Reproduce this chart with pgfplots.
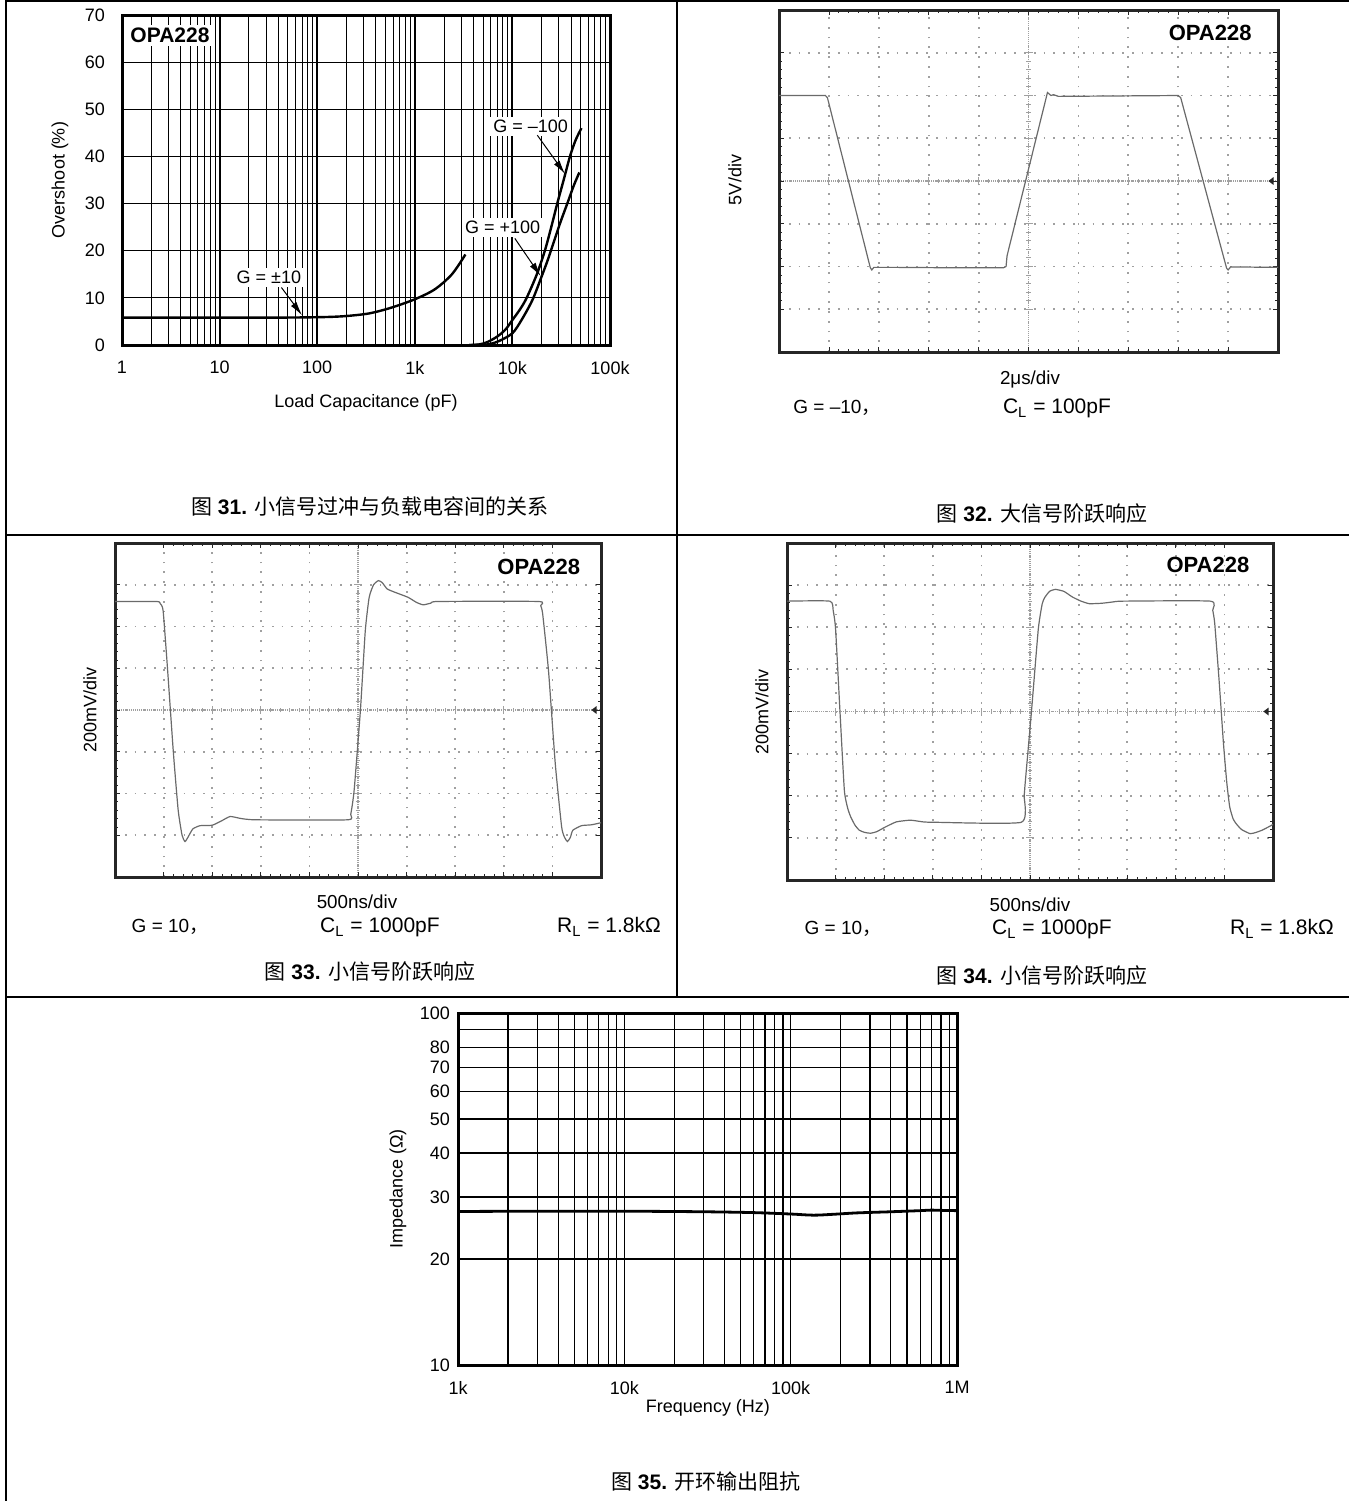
\documentclass[border=0pt]{standalone}
\usepackage{pgfplots}
\pgfplotsset{compat=1.18}
\usepackage{fontspec}
\setmainfont{Liberation Sans}
\newfontfamily\cjk{Noto Sans CJK SC}
\usetikzlibrary{arrows.meta}
\definecolor{trace}{HTML}{6A6A6A}
\definecolor{sgrid}{HTML}{A0A0A0}
\definecolor{sframe}{HTML}{262626}
\newcommand\figcap[2]{{\cjk 图} \textbf{#1.} {\cjk #2}}
\newcommand\fs{\fontsize{9bp}{10bp}\selectfont}
\newcommand\fss{\fontsize{9.4bp}{10bp}\selectfont}
\newcommand\fg{\fontsize{9.5bp}{10bp}\selectfont}
\newcommand\fc{\fontsize{10.5bp}{11bp}\selectfont}
\newcommand\fopa{\bfseries\fontsize{10.5bp}{11bp}\selectfont}
\newcommand\fopb{\bfseries\fontsize{11bp}{12bp}\selectfont}
\pgfplotsset{
  scopebase/.style={scale only axis, anchor=south west, xmin=0,xmax=10,ymin=-4,ymax=4,
    xticklabels={}, yticklabels={}},
  scopeaxis/.style={scopebase,
    xtick={1,...,9}, ytick={-3,...,3},
    minor x tick num=4, minor y tick num=4,
    tick align=inside, tick pos=both,
    major tick length=2.5bp, minor tick length=1.5bp,
    tick style={sframe, line width=0.4bp},
    grid=major,
    major grid style={sgrid, line width=0.9bp, dash pattern=on 0.9bp off 4bp},
    axis line style={sframe, line width=1.5bp},
  },
  scopemid/.style={scopebase, xmin=-5, xmax=5,
    axis lines=middle,
    axis line style={sgrid, line width=0.6bp, -, dash pattern=on 0.5bp off 0.5bp},
    xtick={-4,...,4}, ytick={-3,...,3},
    minor x tick num=4, minor y tick num=4,
    tick align=center, major tick length=4bp, minor tick length=2.4bp,
    tick style={sgrid, line width=0.5bp},
  },
  loggrid/.style={scale only axis, anchor=south west,
    major tick length=0pt, minor tick length=0pt,
    tick label style={font=\fs},
    xticklabel style={yshift=-4.5bp},
    /pgf/number format/assume math mode=true,
    axis line style={black, line width=1.5bp},
  },
}
\begin{document}
\begin{tikzpicture}
\useasboundingbox (0,0) rectangle (674.5bp,-750.5bp);

% ---------------- Figure 31 ----------------
\begin{axis}[loggrid, at={(61bp,-172.5bp)}, width=244bp, height=165bp,
  xmode=log, xmin=1, xmax=1e5, ymin=0, ymax=70,
  xtick={1,10,100,1000,1e4,1e5}, xticklabels={1,10,100,1k,10k,100k},
  minor xtick={2,3,4,5,6,7,8,9,20,30,40,50,60,70,80,90,200,300,400,500,600,700,800,900,2e3,3e3,4e3,5e3,6e3,7e3,8e3,9e3,2e4,3e4,4e4,5e4,6e4,7e4,8e4,9e4},
  ytick={0,10,20,30,40,50,60,70},
  yticklabel style={xshift=-5bp},
  xmajorgrids, xminorgrids, ymajorgrids,
  major x grid style={black, line width=1bp},
  minor x grid style={black, line width=0.5bp},
  major y grid style={black, line width=0.6bp},
]
\addplot[black, line width=1.2bp, smooth] coordinates {
 (1,5.8) (3,5.8) (10,5.8) (30,5.8) (70,5.85) (130,5.95) (200,6.15) (340,6.7) (570,7.9) (1000,9.7) (1600,11.8) (2400,15.0) (3300,19.2)};
\addplot[black, line width=1.2bp, smooth] coordinates {
 (3600,0) (4500,0.1) (5500,0.6) (7000,1.8) (8500,3.3) (10000,5.3) (12000,7.6) (14000,10) (17800,15) (21500,20) (25000,25) (28800,30) (33500,35) (38900,40) (44500,43.5) (51000,46)};
\addplot[black, line width=1.2bp, smooth] coordinates {
 (3600,0) (5000,0.05) (6000,0.25) (7400,0.9) (10000,2.5) (12400,5.3) (16000,9.5) (19900,14.5) (23000,18) (26500,21.8) (31000,26) (37400,30.6) (42500,33.8) (48500,36.6)};
\node[fill=white, inner sep=1.5bp, font=\fopa] at (axis cs:3.1,65.6) {OPA228};
\node[fill=white, inner sep=1.5bp, font=\fs] at (axis cs:32,14.3) {G = ±10};
\node[fill=white, inner sep=1.5bp, font=\fs] at (axis cs:15400,46.3) {G = –100};
\node[fill=white, inner sep=1.5bp, font=\fs] at (axis cs:7950,25.0) {G = +100};
\draw[-{Latex[length=7bp,width=3.4bp]}, line width=0.5bp] (axis cs:43,12.2) -- (axis cs:70,6.3);
\draw[-{Latex[length=7bp,width=3.4bp]}, line width=0.5bp] (axis cs:18000,44.5) -- (axis cs:34600,36.3);
\draw[-{Latex[length=7bp,width=3.4bp]}, line width=0.5bp] (axis cs:10600,22.6) -- (axis cs:19500,14.6);
\end{axis}

% ---------------- Figure 32 ----------------
\begin{axis}[scopemid, at={(389.5bp,-176bp)}, width=249.5bp, height=171bp]
\end{axis}
\begin{axis}[scopeaxis, at={(389.5bp,-176bp)}, width=249.5bp, height=171bp]
\addplot[trace, line width=0.6bp] coordinates {
 (0,2.0) (0.93,2.0) (0.97,1.95) (1.83,-2.03) (1.86,-2.08) (1.9,-2.02) (2.3,-2.02) (3.5,-2.03) (4.5,-2.03) (4.55,-2.0) (4.57,-1.75) (5.38,2.07) (5.45,2.0) (5.5,2.02) (5.6,1.98) (8.0,2.0) (8.05,1.95) (8.97,-2.04) (9.0,-2.08) (9.05,-2.01) (10,-2.02)};
\node[font=\fopb] at (axis cs:8.64,3.46) {OPA228};
\fill[sframe] (rel axis cs:1,0.5) ++(-2.2bp,2bp) -- ++(-2.6bp,-2bp) -- ++(2.6bp,-2bp) -- cycle;
\end{axis}

% ---------------- Figure 33 ----------------
\begin{axis}[scopemid, at={(57.5bp,-438.5bp)}, width=243bp, height=167bp]
\end{axis}
\begin{axis}[scopeaxis, at={(57.5bp,-438.5bp)}, width=243bp, height=167bp]
\addplot[trace, line width=0.6bp, smooth, tension=0.3] coordinates {
 (0,2.6) (0.86,2.6) (0.93,2.55) (0.99,2.38) (1.08,1.0) (1.2,-1.0) (1.3,-2.4) (1.38,-3.0) (1.44,-3.15) (1.5,-3.05) (1.6,-2.85) (1.75,-2.77) (2.0,-2.76) (2.2,-2.65) (2.37,-2.55) (2.6,-2.6) (2.91,-2.63) (4.78,-2.63) (4.85,-2.5) (4.92,-1.93) (5.05,0) (5.15,1.9) (5.23,2.7) (5.32,3.0) (5.42,3.1) (5.5,3.05) (5.6,2.9) (5.76,2.82) (6.03,2.7) (6.2,2.58) (6.34,2.52) (6.5,2.56) (6.65,2.6) (8.71,2.6) (8.76,2.5) (8.8,2.3) (8.92,0.94) (9.06,-1.3) (9.19,-2.8) (9.25,-3.05) (9.31,-3.15) (9.37,-3.05) (9.42,-2.88) (9.6,-2.77) (9.8,-2.75) (10,-2.7)};
\node[font=\fopb] at (axis cs:8.72,3.42) {OPA228};
\fill[sframe] (rel axis cs:1,0.5) ++(-2.2bp,2bp) -- ++(-2.6bp,-2bp) -- ++(2.6bp,-2bp) -- cycle;
\end{axis}

% ---------------- Figure 34 ----------------
\begin{axis}[scopemid, at={(393.5bp,-440bp)}, width=243bp, height=168.5bp]
\end{axis}
\begin{axis}[scopeaxis, at={(393.5bp,-440bp)}, width=243bp, height=168.5bp]
\addplot[trace, line width=0.6bp, smooth, tension=0.3] coordinates {
 (0,2.62) (0.88,2.62) (0.95,2.4) (1.0,1.95) (1.09,0) (1.18,-1.87) (1.25,-2.3) (1.31,-2.5) (1.4,-2.7) (1.49,-2.82) (1.6,-2.87) (1.72,-2.89) (1.85,-2.85) (2.01,-2.75) (2.25,-2.62) (2.54,-2.58) (2.8,-2.62) (3.06,-2.63) (4.82,-2.63) (4.88,-2.0) (4.9,-1.71) (5.03,0) (5.17,1.95) (5.25,2.55) (5.3,2.7) (5.4,2.85) (5.52,2.9) (5.7,2.85) (5.87,2.72) (6.05,2.62) (6.22,2.56) (6.48,2.57) (6.7,2.6) (6.92,2.62) (8.71,2.62) (8.76,2.4) (8.8,2.1) (8.89,0.75) (8.98,-0.75) (9.05,-1.7) (9.11,-2.27) (9.18,-2.55) (9.24,-2.66) (9.35,-2.8) (9.53,-2.9) (9.65,-2.87) (9.77,-2.82) (9.94,-2.72) (10,-2.68)};
\node[font=\fopb] at (axis cs:8.66,3.48) {OPA228};
\fill[sframe] (rel axis cs:1,0.5) ++(-2.2bp,2bp) -- ++(-2.6bp,-2bp) -- ++(2.6bp,-2bp) -- cycle;
\end{axis}

% ---------------- Figure 35 ----------------
\begin{axis}[loggrid, at={(229bp,-682.5bp)}, width=249.5bp, height=176bp,
  xmode=log, ymode=log, xmin=1e3, xmax=1e6, ymin=10, ymax=100,
  xtick={1e3,1e4,1e5,1e6}, xticklabels={1k,10k,100k,1M},
  minor xtick={2e3,3e3,4e3,5e3,6e3,7e3,8e3,9e3,2e4,3e4,4e4,5e4,6e4,7e4,8e4,9e4,2e5,3e5,4e5,5e5,6e5,7e5,8e5,9e5},
  ytick={10,20,30,40,50,60,70,80,90,100}, yticklabels={10,20,30,40,50,60,70,80,,100},
  yticklabel style={xshift=-0.5bp},
  xmajorgrids, xminorgrids, ymajorgrids,
  major x grid style={black, line width=0.6bp},
  minor x grid style={black, line width=0.6bp},
  major y grid style={black, line width=0.6bp},
]
\addplot[black, line width=1.4bp, smooth] coordinates {
 (1e3,27.3) (3e3,27.35) (1e4,27.35) (3e4,27.25) (6e4,27.1) (1e5,26.85) (1.37e5,26.65) (1.8e5,26.8) (2.5e5,27.05) (4e5,27.25) (6e5,27.45) (7e5,27.55) (8e5,27.5) (1e6,27.45)};
\end{axis}

% ---------------- frame and text ----------------
\begin{scope}[x=0.5bp,y=-0.5bp]
\draw[line width=0.75bp] (6,1) -- (1349,1);
\draw[line width=0.75bp] (6,0) -- (6,1501);
\draw[line width=0.75bp] (677,0) -- (677,997);
\draw[line width=0.75bp] (6,535) -- (1349,535);
\draw[line width=0.75bp] (6,997) -- (1349,997);

% fig 31
\node[font=\fs, anchor=base] at (366,408) {Load Capacitance (pF)};
\node[font=\fs, rotate=90] at (60,180) {Overshoot (\%)};
\node[font=\fc, anchor=base] at (370,515) {\figcap{31}{小信号过冲与负载电容间的关系}};
% fig 32
\node[font=\fs, rotate=90] at (735,180) {5V/div};
\node[font=\fss, anchor=base] at (1030,385) {2μs/div};
\node[font=\fg, anchor=base] at (837,414) {G = –10{\cjk ，}};
\node[font=\fc, anchor=base] at (1057,414) {C\textsubscript{L} = 100pF};
\node[font=\fc, anchor=base] at (1042,522) {\figcap{32}{大信号阶跃响应}};
% fig 33
\node[font=\fs, rotate=90] at (90,710) {200mV/div};
\node[font=\fss, anchor=base] at (357,909) {500ns/div};
\node[font=\fg, anchor=base] at (170,933) {G = 10{\cjk ，}};
\node[font=\fc, anchor=base] at (380,933) {C\textsubscript{L} = 1000pF};
\node[font=\fc, anchor=base] at (609,933) {R\textsubscript{L} = 1.8kΩ};
\node[font=\fc, anchor=base] at (370,980) {\figcap{33}{小信号阶跃响应}};
% fig 34
\node[font=\fs, rotate=90] at (762,712) {200mV/div};
\node[font=\fss, anchor=base] at (1030,912) {500ns/div};
\node[font=\fg, anchor=base] at (843,935) {G = 10{\cjk ，}};
\node[font=\fc, anchor=base] at (1052,935) {C\textsubscript{L} = 1000pF};
\node[font=\fc, anchor=base] at (1282,935) {R\textsubscript{L} = 1.8kΩ};
\node[font=\fc, anchor=base] at (1042,984) {\figcap{34}{小信号阶跃响应}};
% fig 35
\node[font=\fs, rotate=90] at (398,1189) {Impedance (Ω)};
\node[font=\fs, anchor=base] at (708,1413) {Frequency (Hz)};
\node[font=\fc, anchor=base] at (706,1490) {\figcap{35}{开环输出阻抗}};
\end{scope}
\end{tikzpicture}
\end{document}
